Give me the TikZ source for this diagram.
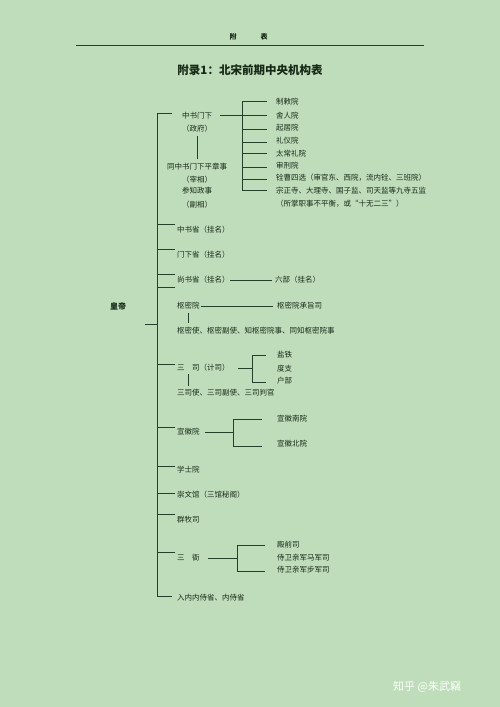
\documentclass[tikz,border=0pt]{standalone}
\usepackage{fontspec}
\setmainfont{Noto Sans CJK SC}
\definecolor{bg}{HTML}{BFDDBA}
\definecolor{ink}{HTML}{172A18}
\definecolor{lnc}{HTML}{22402A}
\newcommand\myfs{\fontsize{7.5pt}{8pt}\selectfont}
\begin{document}
\begin{tikzpicture}[x=1pt,y=-1pt,
  txt/.style={inner sep=0pt, font=\myfs, text=ink, anchor=west},
  ctxt/.style={inner sep=0pt, font=\myfs, text=ink, anchor=center},
  ln/.style={draw=lnc, line width=0.9pt}]
\fill[bg] (0,0) rectangle (500,707);
\useasboundingbox (0,0) rectangle (500,707);
% header
\node[inner sep=0pt, font=\fontsize{7pt}{8pt}\selectfont\bfseries, text=ink] (fu) at (233,37) {附};
\node[inner sep=0pt, font=\fontsize{7pt}{8pt}\selectfont\bfseries, text=ink] (biao) at (264,37) {表};
\coordinate (hl) at (76,45); \coordinate (hr) at (424,45);
\draw[draw=lnc, line width=0.7pt] (hl) -- (hr);
\node[inner sep=0pt, font=\fontsize{11.5pt}{13pt}\selectfont\bfseries, text=ink] (title) at (250,70) {附录1：北宋前期中央机构表};
% emperor
\node[inner sep=0pt, font=\fontsize{8pt}{9pt}\selectfont\bfseries, text=ink] (hd) at (118,306) {皇帝};
\coordinate (hdr) at (145,324); \coordinate (hdt) at (157,324);
\draw[ln] (hdr) -- (hdt);
% trunk
\coordinate (t0) at (157,113); \coordinate (t0r) at (172,113);
\coordinate (t1) at (157,596); \coordinate (t1r) at (172,596);
\draw[ln] (t0r) -- (t0) -- (t1) -- (t1r);
\foreach \yy in {224,249,274,287,364,427,466,493,514,552}{
  \draw[ln] (157,\yy) -- (175,\yy);
}
% zhongshu menxia block
\node[ctxt] (zsmx) at (197,116) {中书门下};
\node[ctxt] (zf) at (197,129) {（政府）};
\node[ctxt] (tz) at (197,167) {同中书门下平章事};
\node[ctxt] (zx) at (197,180) {（宰相）};
\node[ctxt] (cz) at (197,191) {参知政事};
\node[ctxt] (fx) at (197,205) {（副相）};
\draw[ln] (197,136) -- (197,159);
\coordinate (zr) at (220,115); \coordinate (zv) at (242,115);
\draw[ln] (zr) -- (zv);
\draw[ln] (242,101) -- (242,190);
\foreach \yy in {101,115,129,142,153,167,179,190}{
  \draw[ln] (242,\yy) -- (267,\yy);
}
\node[txt] (a1) at (276,102) {制敕院};
\node[txt] (a2) at (276,116) {舍人院};
\node[txt] (a3) at (276,128) {起居院};
\node[txt] (a4) at (276,141) {礼仪院};
\node[txt] (a5) at (276,154) {太常礼院};
\node[txt] (a6) at (276,166) {审刑院};
\node[txt] (a7) at (276,178) {铨曹四选（审官东、西院，流内铨、三班院）};
\node[txt] (a8) at (276,191) {宗正寺、大理寺、国子监、司天监等九寺五监};
\node[txt] (a9) at (276,204) {（所掌职事不平衡，或“十无二三”）};
% branches
\node[txt] (zss) at (177,230) {中书省（挂名）};
\node[txt] (mxs) at (177,255) {门下省（挂名）};
\node[txt] (sss) at (177,280) {尚书省（挂名）};
\node[txt] (lb) at (275,280) {六部（挂名）};
\draw[ln] (230,280) -- (272,280);
\node[txt] (smy) at (177,306) {枢密院};
\node[txt] (smc) at (277,306) {枢密院承旨司};
\draw[ln] (201,306) -- (273,306);
\draw[ln] (188,313) -- (188,323);
\node[txt] (sms) at (177,331) {枢密使、枢密副使、知枢密院事、同知枢密院事};
\node[txt] (ss) at (177,368) {三　司（计司）};
\draw[ln] (238,368) -- (252,368);
\draw[ln] (266,355) -- (252,355) -- (252,382) -- (266,382);
\node[txt] (yt) at (277,355) {盐铁};
\node[txt] (dz) at (277,369) {度支};
\node[txt] (hb) at (277,381) {户部};
\draw[ln] (188,374) -- (188,386);
\node[txt] (ssu) at (177,393) {三司使、三司副使、三司判官};
\node[txt] (xhy) at (177,432) {宣徽院};
\draw[ln] (205,432) -- (233,432);
\draw[ln] (262,419) -- (233,419) -- (233,446) -- (262,446);
\node[txt] (xhn) at (277,419) {宣徽南院};
\node[txt] (xhb) at (277,444) {宣徽北院};
\node[txt] (xsy) at (177,470) {学士院};
\node[txt] (cwg) at (177,495) {崇文馆（三馆秘阁）};
\node[txt] (qms) at (177,520) {群牧司};
\node[txt] (sy) at (177,558) {三　衙};
\draw[ln] (208,558) -- (237,558);
\draw[ln] (265,545) -- (237,545) -- (237,571) -- (265,571);
\node[txt] (dqs) at (277,545) {殿前司};
\node[txt] (mjs) at (277,558) {侍卫亲军马军司};
\node[txt] (bjs) at (277,570) {侍卫亲军步军司};
\node[txt] (nns) at (177,598) {入内内侍省、内侍省};
% watermark
\node[inner sep=0pt, anchor=west, font=\fontsize{11pt}{12pt}\selectfont, text=white] (wm) at (393,687) {知乎 @朱武竊};
\end{tikzpicture}
\end{document}
